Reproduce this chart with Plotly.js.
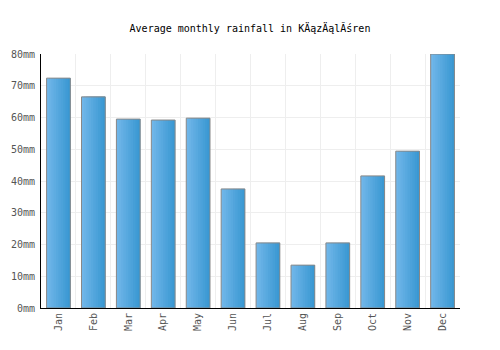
<!DOCTYPE html>
<html><head><meta charset="utf-8">
<script src="https://cdn.plot.ly/plotly-3.0.1.min.js"></script>
<style>html,body{margin:0;padding:0;background:#fff}#c{width:500px;height:350px}</style>
</head><body><div id="c"></div>
<script>
const months = ["Jan","Feb","Mar","Apr","May","Jun","Jul","Aug","Sep","Oct","Nov","Dec"];
const rainfall = [72.4, 66.5, 59.5, 59.2, 59.8, 37.5, 20.5, 13.5, 20.5, 41.6, 49.4, 80];
const yTicks = [0,10,20,30,40,50,60,70,80];
const yTickText = yTicks.map(v => v + "mm");
const font = "DejaVu Sans Mono, monospace";

// horizontal gradient simulated with overlapping strips
const W = 0.68, N = 10;
const c0 = [112,182,233], c1 = [58,152,210];
const traces = [];
for (let i = 0; i < N; i++) {
  const t = i / (N - 1);
  const c = c0.map((v, k) => Math.round(v + (c1[k] - v) * t));
  const start = -W / 2 + i * W / N;
  const w = Math.min(3 * W / N, W / 2 - start);
  traces.push({
    type: "bar", x: months, y: rainfall,
    width: w, offset: start,
    marker: {color: `rgb(${c.join(",")})`, line: {width: 0}},
    hoverinfo: "none"
  });
}
traces.push({
  type: "bar", x: months, y: rainfall, width: W, offset: -W / 2,
  marker: {color: "rgba(0,0,0,0)", line: {color: "#888888", width: 1}},
  hoverinfo: "none"
});

Plotly.newPlot("c", traces, {
  width: 500, height: 350, barmode: "overlay",
  margin: {l: 41, r: 40, t: 54, b: 42},
  paper_bgcolor: "#fff", plot_bgcolor: "#fff",
  title: {text: "Average monthly rainfall in KÄązÄąlĂśren", font: {family: font, size: 10, color: "#000"}, x: 0.5, xanchor: "center", y: 0.92, yanchor: "middle"},
  xaxis: {type: "category", tickson: "boundaries", showgrid: true, gridcolor: "#eeeeee", ticks: "", tickangle: -90,
    showline: true, linecolor: "#000", linewidth: 1, tickfont: {family: font, size: 10, color: "#555"}, fixedrange: true},
  yaxis: {range: [0, 80], tickvals: yTicks, ticktext: yTickText, showgrid: true, gridcolor: "#eeeeee",
    showline: true, linecolor: "#000", linewidth: 1, zeroline: false, ticks: "", ticklen: 0, ticklabelstandoff: 3,
    tickfont: {family: font, size: 10, color: "#555"}, fixedrange: true},
  showlegend: false
}, {displayModeBar: false, staticPlot: true});
</script></body></html>
